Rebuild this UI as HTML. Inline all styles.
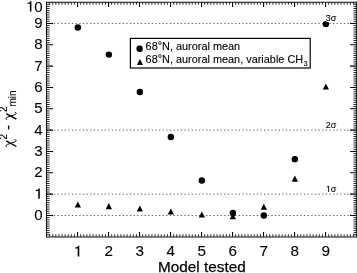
<!DOCTYPE html>
<html><head><meta charset="utf-8"><style>
html,body{margin:0;padding:0;background:#fff;}
svg{display:block;will-change:transform;}
text{font-family:"Liberation Sans",sans-serif;fill:#000;stroke:#000;stroke-width:0.1px;}
.sg{font-size:9px;}
.lg{font-size:10.9px;}
.sub{font-size:7.4px;}
.deg{font-size:10.9px;}
.at{font-size:15.34px;stroke-width:0.25px;}
.yat{font-size:15px;}
.ysup{font-size:10px;}
</style></head><body>
<svg width="357" height="273" viewBox="0 0 357 273">
<line x1="46.55" y1="23.44" x2="356.55" y2="23.44" stroke="#555" stroke-width="0.9" stroke-dasharray="1.4 2.225"/>
<line x1="46.55" y1="130.14" x2="356.55" y2="130.14" stroke="#555" stroke-width="0.9" stroke-dasharray="1.4 2.225"/>
<line x1="46.55" y1="194.16" x2="356.55" y2="194.16" stroke="#555" stroke-width="0.9" stroke-dasharray="1.4 2.225"/>
<line x1="46.55" y1="215.50" x2="356.55" y2="215.50" stroke="#555" stroke-width="0.9" stroke-dasharray="1.4 2.225"/>
<path d="M49.65 236.84V234.24M49.65 2.10V4.70M52.75 236.84V234.24M52.75 2.10V4.70M55.85 236.84V234.24M55.85 2.10V4.70M58.95 236.84V234.24M58.95 2.10V4.70M62.05 236.84V234.24M62.05 2.10V4.70M65.15 236.84V234.24M65.15 2.10V4.70M68.25 236.84V234.24M68.25 2.10V4.70M71.35 236.84V234.24M71.35 2.10V4.70M74.45 236.84V234.24M74.45 2.10V4.70M80.65 236.84V234.24M80.65 2.10V4.70M83.75 236.84V234.24M83.75 2.10V4.70M86.85 236.84V234.24M86.85 2.10V4.70M89.95 236.84V234.24M89.95 2.10V4.70M93.05 236.84V234.24M93.05 2.10V4.70M96.15 236.84V234.24M96.15 2.10V4.70M99.25 236.84V234.24M99.25 2.10V4.70M102.35 236.84V234.24M102.35 2.10V4.70M105.45 236.84V234.24M105.45 2.10V4.70M111.65 236.84V234.24M111.65 2.10V4.70M114.75 236.84V234.24M114.75 2.10V4.70M117.85 236.84V234.24M117.85 2.10V4.70M120.95 236.84V234.24M120.95 2.10V4.70M124.05 236.84V234.24M124.05 2.10V4.70M127.15 236.84V234.24M127.15 2.10V4.70M130.25 236.84V234.24M130.25 2.10V4.70M133.35 236.84V234.24M133.35 2.10V4.70M136.45 236.84V234.24M136.45 2.10V4.70M142.65 236.84V234.24M142.65 2.10V4.70M145.75 236.84V234.24M145.75 2.10V4.70M148.85 236.84V234.24M148.85 2.10V4.70M151.95 236.84V234.24M151.95 2.10V4.70M155.05 236.84V234.24M155.05 2.10V4.70M158.15 236.84V234.24M158.15 2.10V4.70M161.25 236.84V234.24M161.25 2.10V4.70M164.35 236.84V234.24M164.35 2.10V4.70M167.45 236.84V234.24M167.45 2.10V4.70M173.65 236.84V234.24M173.65 2.10V4.70M176.75 236.84V234.24M176.75 2.10V4.70M179.85 236.84V234.24M179.85 2.10V4.70M182.95 236.84V234.24M182.95 2.10V4.70M186.05 236.84V234.24M186.05 2.10V4.70M189.15 236.84V234.24M189.15 2.10V4.70M192.25 236.84V234.24M192.25 2.10V4.70M195.35 236.84V234.24M195.35 2.10V4.70M198.45 236.84V234.24M198.45 2.10V4.70M204.65 236.84V234.24M204.65 2.10V4.70M207.75 236.84V234.24M207.75 2.10V4.70M210.85 236.84V234.24M210.85 2.10V4.70M213.95 236.84V234.24M213.95 2.10V4.70M217.05 236.84V234.24M217.05 2.10V4.70M220.15 236.84V234.24M220.15 2.10V4.70M223.25 236.84V234.24M223.25 2.10V4.70M226.35 236.84V234.24M226.35 2.10V4.70M229.45 236.84V234.24M229.45 2.10V4.70M235.65 236.84V234.24M235.65 2.10V4.70M238.75 236.84V234.24M238.75 2.10V4.70M241.85 236.84V234.24M241.85 2.10V4.70M244.95 236.84V234.24M244.95 2.10V4.70M248.05 236.84V234.24M248.05 2.10V4.70M251.15 236.84V234.24M251.15 2.10V4.70M254.25 236.84V234.24M254.25 2.10V4.70M257.35 236.84V234.24M257.35 2.10V4.70M260.45 236.84V234.24M260.45 2.10V4.70M266.65 236.84V234.24M266.65 2.10V4.70M269.75 236.84V234.24M269.75 2.10V4.70M272.85 236.84V234.24M272.85 2.10V4.70M275.95 236.84V234.24M275.95 2.10V4.70M279.05 236.84V234.24M279.05 2.10V4.70M282.15 236.84V234.24M282.15 2.10V4.70M285.25 236.84V234.24M285.25 2.10V4.70M288.35 236.84V234.24M288.35 2.10V4.70M291.45 236.84V234.24M291.45 2.10V4.70M297.65 236.84V234.24M297.65 2.10V4.70M300.75 236.84V234.24M300.75 2.10V4.70M303.85 236.84V234.24M303.85 2.10V4.70M306.95 236.84V234.24M306.95 2.10V4.70M310.05 236.84V234.24M310.05 2.10V4.70M313.15 236.84V234.24M313.15 2.10V4.70M316.25 236.84V234.24M316.25 2.10V4.70M319.35 236.84V234.24M319.35 2.10V4.70M322.45 236.84V234.24M322.45 2.10V4.70M328.65 236.84V234.24M328.65 2.10V4.70M331.75 236.84V234.24M331.75 2.10V4.70M334.85 236.84V234.24M334.85 2.10V4.70M337.95 236.84V234.24M337.95 2.10V4.70M341.05 236.84V234.24M341.05 2.10V4.70M344.15 236.84V234.24M344.15 2.10V4.70M347.25 236.84V234.24M347.25 2.10V4.70M350.35 236.84V234.24M350.35 2.10V4.70M353.45 236.84V234.24M353.45 2.10V4.70M46.55 234.71H49.65M356.55 234.71H353.45M46.55 232.57H49.65M356.55 232.57H353.45M46.55 230.44H49.65M356.55 230.44H353.45M46.55 228.30H49.65M356.55 228.30H353.45M46.55 226.17H49.65M356.55 226.17H353.45M46.55 224.04H49.65M356.55 224.04H353.45M46.55 221.90H49.65M356.55 221.90H353.45M46.55 219.77H49.65M356.55 219.77H353.45M46.55 217.63H49.65M356.55 217.63H353.45M46.55 213.37H49.65M356.55 213.37H353.45M46.55 211.23H49.65M356.55 211.23H353.45M46.55 209.10H49.65M356.55 209.10H353.45M46.55 206.96H49.65M356.55 206.96H353.45M46.55 204.83H49.65M356.55 204.83H353.45M46.55 202.70H49.65M356.55 202.70H353.45M46.55 200.56H49.65M356.55 200.56H353.45M46.55 198.43H49.65M356.55 198.43H353.45M46.55 196.29H49.65M356.55 196.29H353.45M46.55 192.03H49.65M356.55 192.03H353.45M46.55 189.89H49.65M356.55 189.89H353.45M46.55 187.76H49.65M356.55 187.76H353.45M46.55 185.62H49.65M356.55 185.62H353.45M46.55 183.49H49.65M356.55 183.49H353.45M46.55 181.36H49.65M356.55 181.36H353.45M46.55 179.22H49.65M356.55 179.22H353.45M46.55 177.09H49.65M356.55 177.09H353.45M46.55 174.95H49.65M356.55 174.95H353.45M46.55 170.69H49.65M356.55 170.69H353.45M46.55 168.55H49.65M356.55 168.55H353.45M46.55 166.42H49.65M356.55 166.42H353.45M46.55 164.28H49.65M356.55 164.28H353.45M46.55 162.15H49.65M356.55 162.15H353.45M46.55 160.02H49.65M356.55 160.02H353.45M46.55 157.88H49.65M356.55 157.88H353.45M46.55 155.75H49.65M356.55 155.75H353.45M46.55 153.61H49.65M356.55 153.61H353.45M46.55 149.35H49.65M356.55 149.35H353.45M46.55 147.21H49.65M356.55 147.21H353.45M46.55 145.08H49.65M356.55 145.08H353.45M46.55 142.94H49.65M356.55 142.94H353.45M46.55 140.81H49.65M356.55 140.81H353.45M46.55 138.68H49.65M356.55 138.68H353.45M46.55 136.54H49.65M356.55 136.54H353.45M46.55 134.41H49.65M356.55 134.41H353.45M46.55 132.27H49.65M356.55 132.27H353.45M46.55 128.01H49.65M356.55 128.01H353.45M46.55 125.87H49.65M356.55 125.87H353.45M46.55 123.74H49.65M356.55 123.74H353.45M46.55 121.60H49.65M356.55 121.60H353.45M46.55 119.47H49.65M356.55 119.47H353.45M46.55 117.34H49.65M356.55 117.34H353.45M46.55 115.20H49.65M356.55 115.20H353.45M46.55 113.07H49.65M356.55 113.07H353.45M46.55 110.93H49.65M356.55 110.93H353.45M46.55 106.67H49.65M356.55 106.67H353.45M46.55 104.53H49.65M356.55 104.53H353.45M46.55 102.40H49.65M356.55 102.40H353.45M46.55 100.26H49.65M356.55 100.26H353.45M46.55 98.13H49.65M356.55 98.13H353.45M46.55 96.00H49.65M356.55 96.00H353.45M46.55 93.86H49.65M356.55 93.86H353.45M46.55 91.73H49.65M356.55 91.73H353.45M46.55 89.59H49.65M356.55 89.59H353.45M46.55 85.33H49.65M356.55 85.33H353.45M46.55 83.19H49.65M356.55 83.19H353.45M46.55 81.06H49.65M356.55 81.06H353.45M46.55 78.92H49.65M356.55 78.92H353.45M46.55 76.79H49.65M356.55 76.79H353.45M46.55 74.66H49.65M356.55 74.66H353.45M46.55 72.52H49.65M356.55 72.52H353.45M46.55 70.39H49.65M356.55 70.39H353.45M46.55 68.25H49.65M356.55 68.25H353.45M46.55 63.99H49.65M356.55 63.99H353.45M46.55 61.85H49.65M356.55 61.85H353.45M46.55 59.72H49.65M356.55 59.72H353.45M46.55 57.58H49.65M356.55 57.58H353.45M46.55 55.45H49.65M356.55 55.45H353.45M46.55 53.32H49.65M356.55 53.32H353.45M46.55 51.18H49.65M356.55 51.18H353.45M46.55 49.05H49.65M356.55 49.05H353.45M46.55 46.91H49.65M356.55 46.91H353.45M46.55 42.65H49.65M356.55 42.65H353.45M46.55 40.51H49.65M356.55 40.51H353.45M46.55 38.38H49.65M356.55 38.38H353.45M46.55 36.24H49.65M356.55 36.24H353.45M46.55 34.11H49.65M356.55 34.11H353.45M46.55 31.98H49.65M356.55 31.98H353.45M46.55 29.84H49.65M356.55 29.84H353.45M46.55 27.71H49.65M356.55 27.71H353.45M46.55 25.57H49.65M356.55 25.57H353.45M46.55 21.31H49.65M356.55 21.31H353.45M46.55 19.17H49.65M356.55 19.17H353.45M46.55 17.04H49.65M356.55 17.04H353.45M46.55 14.90H49.65M356.55 14.90H353.45M46.55 12.77H49.65M356.55 12.77H353.45M46.55 10.64H49.65M356.55 10.64H353.45M46.55 8.50H49.65M356.55 8.50H353.45M46.55 6.37H49.65M356.55 6.37H353.45M46.55 4.23H49.65M356.55 4.23H353.45" stroke="#000" stroke-width="0.85" fill="none"/>
<path d="M77.55 236.84V232.04M77.55 2.10V6.90M108.55 236.84V232.04M108.55 2.10V6.90M139.55 236.84V232.04M139.55 2.10V6.90M170.55 236.84V232.04M170.55 2.10V6.90M201.55 236.84V232.04M201.55 2.10V6.90M232.55 236.84V232.04M232.55 2.10V6.90M263.55 236.84V232.04M263.55 2.10V6.90M294.55 236.84V232.04M294.55 2.10V6.90M325.55 236.84V232.04M325.55 2.10V6.90M46.55 215.50H53.05M356.55 215.50H350.05M46.55 194.16H53.05M356.55 194.16H350.05M46.55 172.82H53.05M356.55 172.82H350.05M46.55 151.48H53.05M356.55 151.48H350.05M46.55 130.14H53.05M356.55 130.14H350.05M46.55 108.80H53.05M356.55 108.80H350.05M46.55 87.46H53.05M356.55 87.46H350.05M46.55 66.12H53.05M356.55 66.12H350.05M46.55 44.78H53.05M356.55 44.78H350.05M46.55 23.44H53.05M356.55 23.44H350.05" stroke="#000" stroke-width="1.1" fill="none"/>
<path d="M46.5 1.5999999999999999V237.5M45.95 236.95H357.0M356.4 237.5V1.5999999999999999M357.0 2.15H45.95" fill="none" stroke="#111" stroke-width="1.05"/>
<path transform="translate(73.50,256.40) scale(15.3)" d="M0.377 0L0.377 -0.69L0.300 -0.69C0.285 -0.625 0.225 -0.592 0.113 -0.588L0.113 -0.51L0.274 -0.51L0.274 0Z" fill="#000"/>
<text x="104.50" y="256.40" style="font-size:15.3px">2</text>
<text x="135.50" y="256.40" style="font-size:15.3px">3</text>
<text x="166.50" y="256.40" style="font-size:15.3px">4</text>
<text x="197.50" y="256.40" style="font-size:15.3px">5</text>
<text x="228.50" y="256.40" style="font-size:15.3px">6</text>
<text x="259.50" y="256.40" style="font-size:15.3px">7</text>
<text x="290.50" y="256.40" style="font-size:15.3px">8</text>
<text x="321.50" y="256.40" style="font-size:15.3px">9</text>
<text x="34.13" y="220.10" style="font-size:15.0px">0</text>
<path transform="translate(34.13,198.76) scale(15.0)" d="M0.377 0L0.377 -0.69L0.300 -0.69C0.285 -0.625 0.225 -0.592 0.113 -0.588L0.113 -0.51L0.274 -0.51L0.274 0Z" fill="#000"/>
<text x="34.13" y="177.42" style="font-size:15.0px">2</text>
<text x="34.13" y="156.08" style="font-size:15.0px">3</text>
<text x="34.13" y="134.74" style="font-size:15.0px">4</text>
<text x="34.13" y="113.40" style="font-size:15.0px">5</text>
<text x="34.13" y="92.06" style="font-size:15.0px">6</text>
<text x="34.13" y="70.72" style="font-size:15.0px">7</text>
<text x="34.13" y="49.38" style="font-size:15.0px">8</text>
<text x="34.13" y="28.04" style="font-size:15.0px">9</text>
<path transform="translate(25.78,11.50) scale(15.0)" d="M0.377 0L0.377 -0.69L0.300 -0.69C0.285 -0.625 0.225 -0.592 0.113 -0.588L0.113 -0.51L0.274 -0.51L0.274 0Z" fill="#000"/><text x="34.13" y="11.50" style="font-size:15.0px">0</text>
<path d="M77.85 201.40L74.70 207.50L81.00 207.50Z" fill="#000"/>
<path d="M108.85 203.11L105.70 209.21L112.00 209.21Z" fill="#000"/>
<path d="M139.85 205.46L136.70 211.56L143.00 211.56Z" fill="#000"/>
<path d="M170.85 208.45L167.70 214.55L174.00 214.55Z" fill="#000"/>
<path d="M201.85 211.43L198.70 217.53L205.00 217.53Z" fill="#000"/>
<path d="M232.85 213.14L229.70 219.24L236.00 219.24Z" fill="#000"/>
<path d="M263.85 203.75L260.70 209.85L267.00 209.85Z" fill="#000"/>
<path d="M294.85 175.58L291.70 181.68L298.00 181.68Z" fill="#000"/>
<path d="M325.85 83.39L322.70 89.49L329.00 89.49Z" fill="#000"/>
<circle cx="77.85" cy="27.49" r="3.2" fill="#000"/>
<circle cx="108.85" cy="54.60" r="3.2" fill="#000"/>
<circle cx="139.85" cy="91.94" r="3.2" fill="#000"/>
<circle cx="170.85" cy="136.97" r="3.2" fill="#000"/>
<circle cx="201.85" cy="180.50" r="3.2" fill="#000"/>
<circle cx="232.85" cy="212.94" r="3.2" fill="#000"/>
<circle cx="263.85" cy="215.50" r="3.2" fill="#000"/>
<circle cx="294.85" cy="159.16" r="3.2" fill="#000"/>
<circle cx="325.85" cy="24.08" r="3.2" fill="#000"/>
<rect x="326.4" y="14.24" width="10.4" height="7.8" fill="#fff"/>
<text x="325.74" y="21.24" class="sg">3</text>
<text x="330.75" y="21.24" class="sg">σ</text>
<text x="325.74" y="127.94" class="sg">2</text>
<text x="330.75" y="127.94" class="sg">σ</text>
<path transform="translate(325.74,191.96) scale(9)" d="M0.377 0L0.377 -0.69L0.300 -0.69C0.285 -0.625 0.225 -0.592 0.113 -0.588L0.113 -0.51L0.274 -0.51L0.274 0Z" fill="#000"/>
<text x="330.75" y="191.96" class="sg">σ</text>
<rect x="130.4" y="38.4" width="179.8" height="29.6" fill="#fff" stroke="#000" stroke-width="1.2"/>
<circle cx="139.6" cy="48.8" r="3.2" fill="#000"/>
<path d="M139.90 58.90L136.75 65.00L143.05 65.00Z" fill="#000"/>
<text x="145.6" y="50.3" class="lg">68<tspan dy="-1.1" class="deg">°</tspan><tspan dy="1.1">N, auroral mean</tspan></text>
<text x="145.6" y="63.1" class="lg">68<tspan dy="-1.1" class="deg">°</tspan><tspan dy="1.1">N, auroral mean, variable CH</tspan><tspan class="sub" dx="0.5" dy="2.5">3</tspan></text>
<text x="201.85" y="271.6" text-anchor="middle" class="at">Model tested</text>
<g transform="translate(13,147.5) rotate(-90)"><g transform="translate(0,0)"><path d="M1.0 3.4L6.6 -6.8" stroke="#000" stroke-width="1.35" fill="none"/><path d="M0.4 -6.2C0.9 -7.2 2.3 -7.3 3.1 -5.6L5.6 1.9C6.2 3.6 7.3 3.8 8.1 1.6" stroke="#000" stroke-width="1.0" fill="none"/></g><text x="8.0" y="-6" class="ysup">2</text><text x="17.5" y="-0.5" class="yat">-</text><g transform="translate(27.3,0)"><path d="M1.0 3.4L6.6 -6.8" stroke="#000" stroke-width="1.35" fill="none"/><path d="M0.4 -6.2C0.9 -7.2 2.3 -7.3 3.1 -5.6L5.6 1.9C6.2 3.6 7.3 3.8 8.1 1.6" stroke="#000" stroke-width="1.0" fill="none"/></g><text x="35.4" y="-6" class="ysup">2</text><text x="40.9" y="3.4" class="ysup">min</text></g>
</svg>
</body></html>
